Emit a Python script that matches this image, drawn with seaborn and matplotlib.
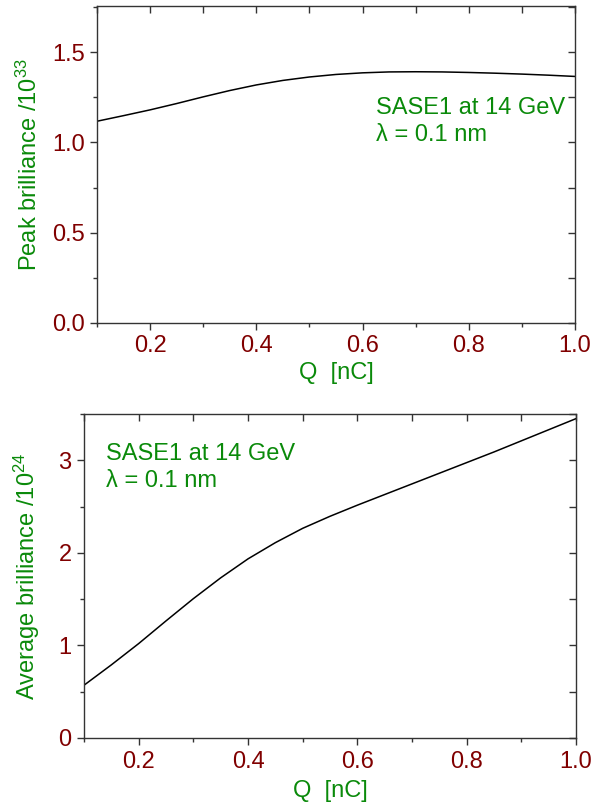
import seaborn as sns
import pandas as pd
import numpy as np
import matplotlib.pyplot as plt
from matplotlib.ticker import MultipleLocator

# charge Q [nC]
q = [0.1, 0.15, 0.2, 0.25, 0.3, 0.35, 0.4, 0.45, 0.5, 0.55,
     0.6, 0.65, 0.7, 0.75, 0.8, 0.85, 0.9, 0.95, 1.0]
# peak brilliance / 1e33
peak = [1.117, 1.148, 1.18, 1.215, 1.252, 1.287, 1.318, 1.343, 1.362, 1.376,
        1.385, 1.39, 1.391, 1.39, 1.387, 1.383, 1.378, 1.372, 1.365]
# average brilliance / 1e24
avg = [0.57, 0.79, 1.02, 1.265, 1.505, 1.73, 1.935, 2.11, 2.265, 2.395,
       2.515, 2.63, 2.745, 2.86, 2.975, 3.09, 3.21, 3.33, 3.45]

note = "SASE1 at 14 GeV\n\u03bb = 0.1 nm"

sns.set_style("ticks")
plt.rcParams['font.family'] = ['Liberation Sans', 'DejaVu Sans']
plt.rcParams['mathtext.fontset'] = 'custom'
plt.rcParams['mathtext.rm'] = 'Liberation Sans'
plt.rcParams['mathtext.it'] = 'Liberation Sans'

red = '#800000'
green = '#0a8a0a'
fs = 17

df = pd.DataFrame({'Q': q, 'peak': peak, 'avg': avg})

fig = plt.figure(figsize=(6.03, 8.07), dpi=100)
ax1 = fig.add_axes([97/603, 1-323/807, 478/603, 317/807])
ax2 = fig.add_axes([84/603, 1-738/807, 492/603, 324/807])


def style(ax, ymax, ymaj, ymin, ylabel, lx, ly):
    ax.set_xlim(0.1, 1.0)
    ax.set_ylim(0, ymax)
    ax.xaxis.set_major_locator(MultipleLocator(0.2))
    ax.xaxis.set_minor_locator(MultipleLocator(0.1))
    ax.yaxis.set_major_locator(MultipleLocator(ymaj))
    ax.yaxis.set_minor_locator(MultipleLocator(ymin))
    ax.tick_params(which='major', direction='out', length=5, width=1,
                   colors='#333333', labelcolor=red, labelsize=fs, pad=4)
    ax.tick_params(which='minor', direction='out', length=3, width=1,
                   colors='#333333')
    for s in ax.spines.values():
        s.set_visible(True)
        s.set_color('#333333')
        s.set_linewidth(1)
    ax.set_xlabel('Q  [nC]', color=green, fontsize=fs)
    ax.set_ylabel(ylabel, color=green, fontsize=fs)
    ax.xaxis.set_label_coords(0.5, ly)
    ax.yaxis.set_label_coords(lx, 0.5)
    # inward ticks on the top and right edges
    top = ax.secondary_xaxis('top')
    top.xaxis.set_major_locator(MultipleLocator(0.1))
    top.tick_params(direction='in', length=5, width=1, colors='#333333',
                    labeltop=False)
    right = ax.secondary_yaxis('right')
    right.yaxis.set_major_locator(MultipleLocator(ymin))
    right.tick_params(direction='in', length=5, width=1, colors='#333333',
                      labelright=False)
    for sec in (top, right):
        for s in sec.spines.values():
            s.set_visible(False)


sns.lineplot(data=df, x='Q', y='peak', ax=ax1, color='black', linewidth=1.1)
style(ax1, 1.755, 0.5, 0.25, 'Peak brilliance /10$^{33}$', -0.115, -0.123)
ax1.yaxis.set_major_formatter(plt.FormatStrFormatter('%.1f'))
ax1.xaxis.set_major_formatter(plt.FormatStrFormatter('%.1f'))
ax1.text(0.584, 0.637, note, transform=ax1.transAxes, color=green,
         fontsize=fs, va='center', ha='left', linespacing=1.3)

sns.lineplot(data=df, x='Q', y='avg', ax=ax2, color='black', linewidth=1.1)
style(ax2, 3.5, 1, 0.5, 'Average brilliance /10$^{24}$', -0.085, -0.13)
ax2.xaxis.set_major_formatter(plt.FormatStrFormatter('%.1f'))
ax2.text(0.045, 0.836, note, transform=ax2.transAxes, color=green,
         fontsize=fs, va='center', ha='left', linespacing=1.3)

fig.savefig('out.png', dpi=100)
